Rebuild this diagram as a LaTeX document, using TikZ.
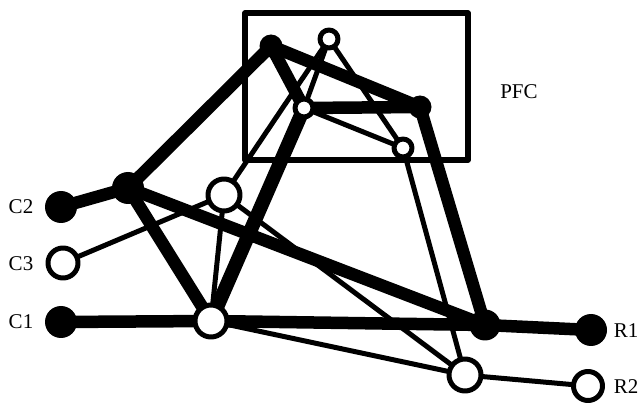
\documentclass[tikz,border=0pt]{standalone}
\usepackage{fontspec}
\setmainfont{Liberation Serif}
\usepackage{tikz}

\begin{document}
\begin{tikzpicture}[x=1pt, y=-1pt,
    font=\fontsize{21}{25}\selectfont,
    line join=round,
    big/.style={circle, inner sep=0pt, minimum size=32pt},
    small/.style={circle, inner sep=0pt, minimum size=18pt},
    full/.style={fill=black},
    hollow/.style={draw=black, fill=white, line width=5pt},
    heavy/.style={line width=12.5pt},
    light/.style={line width=5pt},
    lbl/.style={inner sep=0pt}]
  \useasboundingbox (0,0) rectangle (641,409);

  % ----- PFC box -----
  \draw[line width=5.5pt] (245,13) rectangle (468,160);
  \node[lbl] (pfc) at (519,92) {PFC};

  % ----- node centres -----
  \coordinate (c2) at (61,207);
  \coordinate (c3) at (63,263);
  \coordinate (c1) at (61,322);
  \coordinate (lhub) at (128,188);
  \coordinate (lmid) at (224,195);
  \coordinate (lbot) at (211,321);
  \coordinate (ptop) at (271,46);
  \coordinate (pcap) at (329,39);
  \coordinate (pmid) at (304,108);
  \coordinate (pright) at (420,107);
  \coordinate (plow) at (403,148);
  \coordinate (rhub) at (485,325);
  \coordinate (rbot) at (465,375);
  \coordinate (r1) at (591,330);
  \coordinate (r2) at (588,386);

  % ----- heavy links -----
  \draw[heavy] (c2) -- (lhub) -- (ptop) -- (pright) -- (rhub) -- (r1);
  \draw[heavy] (ptop) -- (pmid) -- (pright);
  \draw[heavy, line width=14pt] (lbot) -- (pmid);
  \draw[heavy] (lhub) -- (lbot);
  \draw[heavy] (lhub) -- (rhub);
  \draw[heavy] (c1) -- (lbot) -- (rhub);

  % ----- light links -----
  \draw[light] (c3) -- (lmid) -- (pcap) -- (pmid) -- (plow) -- (pcap);
  \draw[light] (plow) -- (rbot) -- (r2);
  \draw[light] (lmid) -- (lbot) -- (rbot) -- (lmid);

  % ----- node discs -----
  \node[big, full] (n-c2) at (c2) {};
  \node[big, hollow, minimum size=30pt] (n-c3) at (c3) {};
  \node[big, full] (n-c1) at (c1) {};
  \node[big, full] (n-lhub) at (lhub) {};
  \node[big, hollow] (n-lmid) at (lmid) {};
  \node[big, hollow] (n-lbot) at (lbot) {};
  \node[small, full, minimum size=23pt] (n-ptop) at (ptop) {};
  \node[small, hollow] (n-pcap) at (pcap) {};
  \node[small, hollow] (n-pmid) at (pmid) {};
  \node[small, full, minimum size=23pt] (n-pright) at (pright) {};
  \node[small, hollow] (n-plow) at (plow) {};
  \node[big, full, minimum size=31pt] (n-rhub) at (rhub) {};
  \node[big, hollow] (n-rbot) at (rbot) {};
  \node[big, full] (n-r1) at (r1) {};
  \node[big, hollow, minimum size=29pt] (n-r2) at (r2) {};

  % ----- labels -----
  \node[lbl] (t-c2) at (21,207) {C2};
  \node[lbl] (t-c3) at (21,264) {C3};
  \node[lbl] (t-c1) at (21,322) {C1};
  \node[lbl] (t-r1) at (626,331) {R1};
  \node[lbl] (t-r2) at (626,387) {R2};
\end{tikzpicture}
\end{document}
